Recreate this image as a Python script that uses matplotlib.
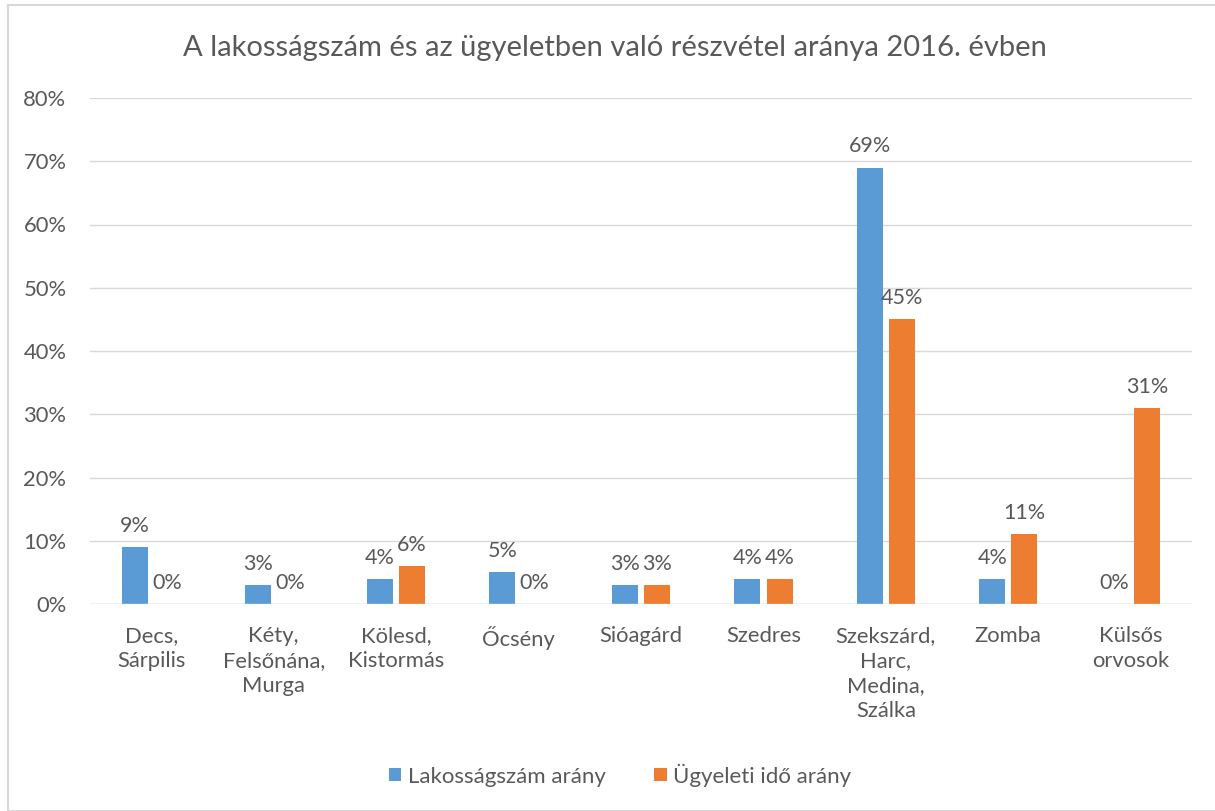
import matplotlib
matplotlib.use("Agg")
import matplotlib.pyplot as plt
import numpy as np
from matplotlib.patches import Rectangle

categories = ["Decs,\nSárpilis", "Kéty,\nFelsőnána,\nMurga", "Kölesd,\nKistormás", "Őcsény",
              "Sióagárd", "Szedres", "Szekszárd,\nHarc,\nMedina,\nSzálka", "Zomba", "Külsős\norvosok"]
lakossag = [9, 3, 4, 5, 3, 4, 69, 4, 0]
ugyeleti = [0, 0, 6, 0, 3, 4, 45, 11, 31]
series_names = ["Lakosságszám arány", "Ügyeleti idő arány"]
title = "A lakosságszám és az ügyeletben való részvétel aránya 2016. évben"
yticks = [0, 10, 20, 30, 40, 50, 60, 70, 80]

plt.rcParams['font.family'] = ['Lato', 'DejaVu Sans']
txt = '#595959'
blue = '#5B9BD5'
orange = '#ED7D31'

fig = plt.figure(figsize=(12.15, 8.11), dpi=100)
fig.patches.append(Rectangle((8/1215, 0), 1 - 8/1215 + 0.01, 1 - 5/811, transform=fig.transFigure,
                             fill=False, edgecolor='#d9d9d9', linewidth=1.5))
ax = fig.add_axes([90/1215, 1 - 604/811, (1192 - 90)/1215, (604 - 98)/811])

x = np.arange(len(categories))
w = 0.213
gap = 0.025
b1 = ax.bar(x - w/2 - gap, lakossag, w, color=blue, label=series_names[0])
b2 = ax.bar(x + w/2 + gap, ugyeleti, w, color=orange, label=series_names[1])
for bars in (b1, b2):
    for r in bars:
        ax.annotate(f"{int(r.get_height())}%", (r.get_x() + r.get_width()/2, r.get_height()),
                    xytext=(0, 8), textcoords='offset points', ha='center', va='bottom',
                    fontsize=15.5, color=txt)

ax.set_xlim(-0.5, len(categories) - 0.5)
ax.set_ylim(0, 80)
ax.set_yticks(yticks)
ax.set_yticklabels([f"{v}%" for v in yticks])
ax.set_xticks(x)
ax.set_xticklabels(categories, linespacing=1.3)
ax.tick_params(axis='both', length=0, labelsize=15.8, colors=txt)
ax.tick_params(axis='x', pad=16)
ax.tick_params(axis='y', pad=17)
ax.grid(axis='y', color='#d9d9d9', linewidth=1)
ax.set_axisbelow(True)
for s in ax.spines.values():
    s.set_visible(False)
ax.axhline(0, color='#d9d9d9', linewidth=1)

fig.text(615/1215, 1 - 48/811, title, ha='center', va='center', fontsize=21, color=txt)
fig.legend(handles=[b1, b2], labels=series_names, loc='center', bbox_to_anchor=(620/1215, 1 - 775/811),
           ncol=2, frameon=False, fontsize=16, labelcolor=txt, handlelength=0.55, handleheight=0.55,
           handletextpad=0.3, columnspacing=2.2)

fig.savefig("out.png", dpi=100)
